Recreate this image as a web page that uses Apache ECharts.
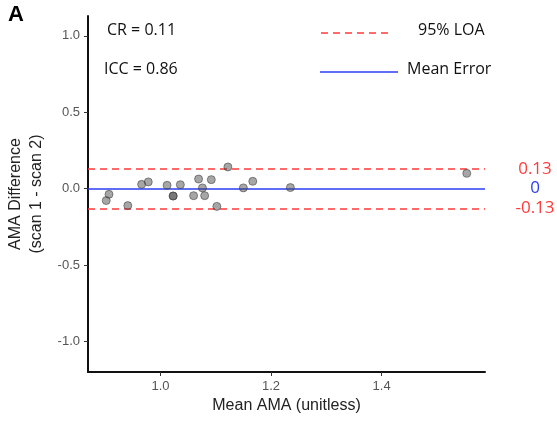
<!DOCTYPE html>
<html>
<head>
<meta charset="utf-8">
<script src="https://cdn.jsdelivr.net/npm/echarts@6/dist/echarts.min.js"></script>
<style>
  html, body { margin: 0; padding: 0; background: #fff; }
  #chart { width: 557px; height: 421px; }
</style>
</head>
<body>
<div id="chart"></div>
<script>
// Bland-Altman style plot: scan 1 vs scan 2
var meanAMA = [0.902, 0.907, 0.941, 0.966, 0.978, 1.012, 1.023, 1.023, 1.036, 1.060,
               1.069, 1.076, 1.080, 1.092, 1.102, 1.122, 1.150, 1.167, 1.235, 1.554];
var diffAMA = [-0.078, -0.037, -0.111, 0.028, 0.044, 0.022, -0.048, -0.048, 0.026, -0.046,
               0.063, 0.005, -0.046, 0.059, -0.116, 0.142, 0.005, 0.048, 0.007, 0.100];
var loaValues = [0.13, -0.13];
var meanError = 0;
var yTicks = [-1.0, -0.5, 0.0, 0.5, 1.0];
var xTicks = [1.0, 1.2, 1.4];

var points = meanAMA.map(function (x, i) { return [x, diffAMA[i]]; });

var red = '#ff3a3a';
var blue = '#2a3df5';
var tickFont = { color: '#555', fontSize: 13, fontFamily: 'Liberation Sans' };

var chart = echarts.init(document.getElementById('chart'));
chart.setOption({
    animation: false,
    grid: { left: 88, top: 16, width: 397, height: 356, containLabel: false, outerBoundsMode: 'none' },
    xAxis: {
        type: 'value', min: 0.869, max: 1.587,
        name: 'Mean AMA (unitless)', nameLocation: 'middle', nameGap: 25,
        nameTextStyle: { color: '#222', fontSize: 16, fontFamily: 'Liberation Sans' },
        axisLine: { onZero: false, lineStyle: { color: '#111', width: 2 } },
        axisTick: { customValues: xTicks, length: 4, lineStyle: { color: '#333' } },
        axisLabel: Object.assign({ customValues: xTicks, margin: 8,
            formatter: function (v) { return v.toFixed(1); } }, tickFont),
        splitLine: { show: false }
    },
    yAxis: {
        type: 'value', min: -1.2, max: 1.13,
        name: 'AMA Difference\n(scan 1 - scan 2)', nameLocation: 'middle', nameGap: 35,
        nameTextStyle: { color: '#222', fontSize: 16, lineHeight: 21, fontFamily: 'Liberation Sans' },
        axisLine: { show: true, onZero: false, lineStyle: { color: '#111', width: 2 } },
        axisTick: { show: true, customValues: yTicks, length: 4, lineStyle: { color: '#333' } },
        axisLabel: Object.assign({ customValues: yTicks, margin: 8,
            formatter: function (v) { return v.toFixed(1); } }, tickFont),
        splitLine: { show: false }
    },
    series: [{
        type: 'scatter',
        data: points,
        symbolSize: 8,
        itemStyle: { color: 'rgba(70,70,70,0.6)', borderColor: 'rgba(60,60,60,0.7)', borderWidth: 1 },
        z: 5,
        markLine: {
            silent: true,
            symbol: 'none',
            animation: false,
            data: [
                { yAxis: loaValues[0], lineStyle: { color: red, type: [7, 5], width: 1.6 },
                  label: { formatter: loaValues[0].toFixed(2), color: red } },
                { yAxis: meanError, lineStyle: { color: blue, type: 'solid', width: 1.6 },
                  label: { formatter: String(meanError), color: blue } },
                { yAxis: loaValues[1], lineStyle: { color: red, type: [7, 5], width: 1.6 },
                  label: { formatter: loaValues[1].toFixed(2), color: red } }
            ],
            label: { position: 'end', distance: 50, align: 'center', fontSize: 17, fontFamily: 'Open Sans' }
        }
    }],
    graphic: [
        { type: 'text', left: 8, top: 4,
          style: { text: 'A', font: 'bold 22px Liberation Sans', fill: '#000' } },
        { type: 'text', left: 107, top: 22,
          style: { text: 'CR = 0.11', font: '16px Open Sans', fill: '#111' } },
        { type: 'text', left: 104, top: 61,
          style: { text: 'ICC = 0.86', font: '16px Open Sans', fill: '#111' } },
        { type: 'line', shape: { x1: 321, y1: 33, x2: 392, y2: 33 },
          style: { stroke: red, lineWidth: 1.5, lineDash: [7, 5] } },
        { type: 'text', left: 418, top: 22,
          style: { text: '95% LOA', font: '16px Open Sans', fill: '#111' } },
        { type: 'line', shape: { x1: 320, y1: 72, x2: 398, y2: 72 },
          style: { stroke: blue, lineWidth: 1.5 } },
        { type: 'text', left: 407, top: 61,
          style: { text: 'Mean Error', font: '16px Open Sans', fill: '#111' } }
    ]
});
</script>
</body>
</html>
